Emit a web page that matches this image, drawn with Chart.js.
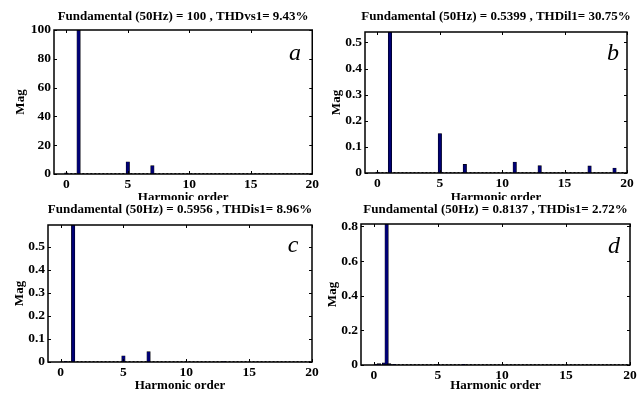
<!DOCTYPE html>
<html>
<head>
<meta charset="utf-8">
<script src="https://cdn.jsdelivr.net/npm/chart.js@4.4.0/dist/chart.umd.min.js"></script>
<style>
  body { margin: 0; background: #fff; }
  #wrap { position: relative; width: 643px; height: 401px; overflow: hidden; }
  canvas { position: absolute; }
</style>
</head>
<body>
<div id="wrap">
  <canvas id="pa" width="321" height="215" style="left:0;top:0"></canvas>
  <canvas id="pb" width="322" height="215" style="left:321px;top:0"></canvas>
  <canvas id="pc" width="321" height="201" style="left:0;top:200px"></canvas>
  <canvas id="pd" width="322" height="201" style="left:321px;top:200px"></canvas>
</div>
<script>
// data
const letters = ['a', 'b', 'c', 'd'];
const titles = [
  'Fundamental (50Hz) = 100 , THDvs1= 9.43%',
  'Fundamental (50Hz) = 0.5399 , THDil1= 30.75%',
  'Fundamental (50Hz) = 0.5956 , THDis1= 8.96%',
  'Fundamental (50Hz) = 0.8137 , THDis1= 2.72%'
];
const orderA = [0, 1, 5, 7];
const magA = [0.8, 100, 8.5, 5.8];
const orderB = [0, 1, 5, 7, 11, 13, 17, 19];
const magB = [0.004, 0.5399, 0.151, 0.033, 0.042, 0.028, 0.027, 0.019];
const orderC = [0.4, 1, 5, 7, 13];
const magC = [0.003, 0.5956, 0.027, 0.045, 0.002];
const orderD = [0.2, 0.4, 0.8, 1, 1.2, 1.6, 5, 7];
const magD = [0.006, 0.008, 0.012, 0.8137, 0.008, 0.004, 0.003, 0.004];
const yMax = [100, 0.5399, 0.5956, 0.8137];
const yTicksA = [0, 20, 40, 60, 80, 100];
const yTicksB = [0, 0.1, 0.2, 0.3, 0.4, 0.5];
const yTicksC = [0, 0.1, 0.2, 0.3, 0.4, 0.5];
const yTicksD = [0, 0.2, 0.4, 0.6, 0.8];
const xTicks = [0, 5, 10, 15, 20];
const xRange = [-1, 20];
const baseX = [0, 20];
const baseY = [0, 0];

// layout of each panel inside its canvas
const boxes = [
  { id: 'pa', yw: 54, top: 30, right: 6, xh: 41, xtp: 9.2, ytp: 13.2, titleY: 17, lx: 295, ly: 60 },
  { id: 'pb', yw: 44, top: 32, right: 16, xh: 42, xtp: 9.2, ytp: 8.2, titleY: 17, lx: 292, ly: 60 },
  { id: 'pc', yw: 48, top: 25, right: 9, xh: 39, xtp: 7.2, ytp: 11.7, titleY: 10, lx: 293, ly: 52 },
  { id: 'pd', yw: 40, top: 24, right: 13, xh: 36, xtp: 7.2, ytp: 3.7, titleY: 10, lx: 293, ly: 53 }
];

const orders = [orderA, orderB, orderC, orderD];
const mags = [magA, magB, magC, magD];
const yTicks = [yTicksA, yTicksB, yTicksC, yTicksD];

const serif = '"Liberation Serif", "Times New Roman", serif';
const tickFont = { family: serif, size: 13.5, weight: 'bold' };
const labFont = { family: serif, size: 13, weight: 'bold' };

const deco = {
  id: 'deco',
  beforeDraw(chart) {
    const ctx = chart.ctx;
    ctx.save();
    ctx.fillStyle = '#fff';
    ctx.fillRect(0, 0, chart.width, chart.height);
    ctx.restore();
  },
  afterDraw(chart, args, opts) {
    const { ctx, chartArea: a, scales } = chart;
    ctx.save();
    ctx.strokeStyle = '#000';
    ctx.lineWidth = 1;
    ctx.beginPath();
    scales.x.ticks.forEach(t => {
      const px = Math.round(scales.x.getPixelForValue(t.value)) + 0.5;
      ctx.moveTo(px, a.top); ctx.lineTo(px, a.top + 3);
      ctx.moveTo(px, a.bottom); ctx.lineTo(px, a.bottom - 3);
    });
    scales.y.ticks.forEach(t => {
      const py = Math.round(scales.y.getPixelForValue(t.value)) + 0.5;
      ctx.moveTo(a.left, py); ctx.lineTo(a.left + 3, py);
      ctx.moveTo(a.right, py); ctx.lineTo(a.right - 3, py);
    });
    ctx.stroke();
    ctx.lineWidth = 1.5;
    ctx.strokeRect(a.left, a.top, a.right - a.left, a.bottom - a.top);

    ctx.fillStyle = '#000';
    ctx.font = 'bold 13px ' + serif;
    ctx.textAlign = 'center';
    ctx.textBaseline = 'middle';
    ctx.fillText(opts.title, (a.left + a.right) / 2, opts.titleY);

    ctx.font = 'italic 24px ' + serif;
    ctx.textBaseline = 'alphabetic';
    ctx.fillText(opts.letter, opts.lx, opts.ly);
    ctx.restore();
  }
};

boxes.forEach(function(b, i) {
  const canvas = document.getElementById(b.id);
  const bars = orders[i].map((h, k) => ({ x: h, y: mags[i][k] }));
  const base = baseX.map((h, k) => ({ x: h, y: baseY[k] }));

  new Chart(canvas.getContext('2d'), {
    type: 'bar',
    data: {
      datasets: [{
        type: 'line',
        data: base,
        borderColor: '#222',
        borderWidth: 2,
        borderDash: [2, 2],
        pointRadius: 0,
        order: 2
      }, {
        data: bars,
        backgroundColor: '#000075',
        borderColor: '#000',
        borderWidth: 0.6,
        barThickness: 3.5,
        order: 1
      }]
    },
    options: {
      responsive: false,
      animation: false,
      devicePixelRatio: 1,
      layout: { padding: { left: 0, top: b.top, right: b.right, bottom: 0 } },
      plugins: {
        legend: { display: false },
        tooltip: { enabled: false },
        deco: { title: titles[i], titleY: b.titleY, letter: letters[i], lx: b.lx, ly: b.ly }
      },
      scales: {
        x: {
          type: 'linear',
          min: xRange[0],
          max: xRange[1],
          offset: false,
          grid: { display: false, drawTicks: false, offset: false },
          border: { display: false },
          afterBuildTicks: s => { s.ticks = xTicks.map(v => ({ value: v })); },
          afterFit: s => { s.height = b.xh; },
          ticks: { padding: 2, color: '#000', font: tickFont, maxRotation: 0, autoSkip: false, callback: v => String(v) },
          title: { display: true, text: 'Harmonic order', color: '#000', font: labFont, padding: { top: 0, bottom: b.xtp } }
        },
        y: {
          min: 0,
          max: yMax[i],
          grid: { display: false, drawTicks: false },
          border: { display: false },
          afterBuildTicks: s => { s.ticks = yTicks[i].map(v => ({ value: v })); },
          afterFit: s => { s.width = b.yw; },
          ticks: { padding: 3, color: '#000', font: tickFont, autoSkip: false, callback: v => String(v) },
          title: { display: true, text: 'Mag', color: '#000', font: labFont, padding: { top: b.ytp, bottom: 0 } }
        }
      }
    },
    plugins: [deco]
  });
});
</script>
</body>
</html>
